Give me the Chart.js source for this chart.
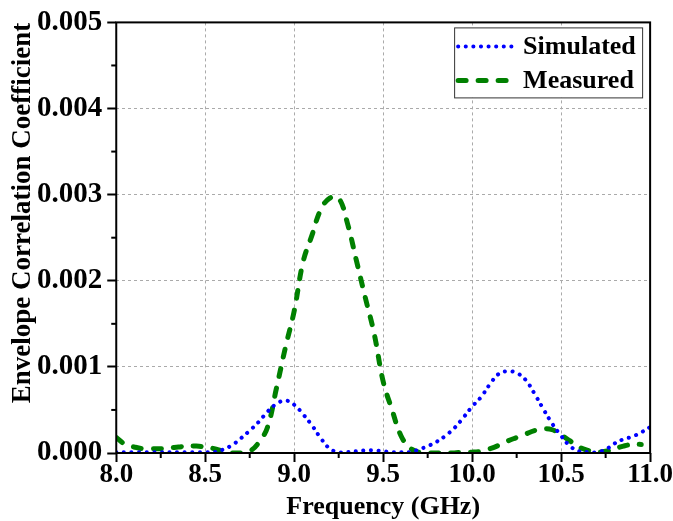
<!DOCTYPE html>
<html>
<head>
<meta charset="utf-8">
<script src="https://cdn.jsdelivr.net/npm/chart.js@4.4.1/dist/chart.umd.min.js"></script>
<style>
  body { margin: 0; background: #fff; }
  #wrap { width: 673px; height: 521px; position: relative; }
</style>
</head>
<body>
<div id="wrap"><canvas id="eccChart"></canvas></div>
<script>
// Tần số (GHz)
const freq = [8.00, 8.05, 8.10, 8.15, 8.20, 8.25, 8.30, 8.35, 8.40, 8.45,
              8.50, 8.55, 8.60, 8.65, 8.70, 8.75, 8.80, 8.85, 8.90, 8.95,
              9.00, 9.05, 9.10, 9.15, 9.20, 9.25, 9.30, 9.35, 9.40, 9.45,
              9.50, 9.55, 9.60, 9.65, 9.70, 9.75, 9.80, 9.85, 9.90, 9.95,
              10.00, 10.05, 10.10, 10.15, 10.20, 10.25, 10.30, 10.35, 10.40, 10.45,
              10.50, 10.55, 10.60, 10.65, 10.70, 10.75, 10.80, 10.85, 10.90, 10.95,
              11.00];

// ECC mô phỏng
const simulated = [0.00001, 0.00001, 0.00001, 0.00001, 0.00001, 0.00001, 0.00001, 0.00001, 0.00001, 0.00001,
                   0.00001, 0.00001, 0.00004, 0.00009, 0.00017, 0.00026, 0.00036, 0.00048, 0.00057, 0.00061,
                   0.00056, 0.00045, 0.00032, 0.00017, 0.00005, 0.00001, 0.00001, 0.00002, 0.00003, 0.00003,
                   0.00002, 0.00001, 0.00001, 0.00001, 0.00004, 0.00008, 0.00013, 0.00020, 0.00029, 0.00041,
                   0.00054, 0.00065, 0.00080, 0.00092, 0.00095, 0.00093, 0.00085, 0.00069, 0.00051, 0.00034,
                   0.00020, 0.00008, 0.00002, 0.00001, 0.00001, 0.00004, 0.00011, 0.00016, 0.00019, 0.00024,
                   0.00030];

// ECC đo đạc
const measured = [0.00018, 0.00010, 0.00007, 0.00005, 0.00005, 0.00005, 0.00006, 0.00007, 0.00008, 0.00008,
                  0.00007, 0.00005, 0.00002, 0.00000, 0.00000, 0.00002, 0.00012, 0.00030, 0.00075, 0.00122,
                  0.00165, 0.00222, 0.00253, 0.00283, 0.00296, 0.00296, 0.00266, 0.00223, 0.00180, 0.00138,
                  0.00083, 0.00050, 0.00020, 0.00006, 0.00001, 0.00000, 0.00000, 0.00000, 0.00000, 0.00001,
                  0.00001, 0.00002, 0.00005, 0.00009, 0.00014, 0.00018, 0.00022, 0.00026, 0.00028, 0.00027,
                  0.00021, 0.00014, 0.00007, 0.00003, 0.00001, 0.00002, 0.00005, 0.00008, 0.00010, 0.00010,
                  null];

const xMinorTicks = [8.25, 8.75, 9.25, 9.75, 10.25, 10.75];
const yMinorTicks = [0.0005, 0.0015, 0.0025, 0.0035, 0.0045];

const FONT = "'Liberation Serif', 'Times New Roman', serif";

// Khung viền, vạch phụ, nhãn trục Y và chú thích
const decorations = {
    id: 'decorations',
    afterDraw(chart) {
        const ctx = chart.ctx;
        const a = chart.chartArea;
        const xs = chart.scales.x, ys = chart.scales.y;
        ctx.save();
        // minor ticks
        ctx.strokeStyle = '#000';
        ctx.lineWidth = 2;
        ctx.setLineDash([]);
        yMinorTicks.forEach(v => {
            const y = ys.getPixelForValue(v);
            ctx.beginPath(); ctx.moveTo(a.left - 5, y); ctx.lineTo(a.left, y); ctx.stroke();
        });
        xMinorTicks.forEach(v => {
            const x = xs.getPixelForValue(v);
            ctx.beginPath(); ctx.moveTo(x, a.bottom); ctx.lineTo(x, a.bottom + 5); ctx.stroke();
        });
        // border
        ctx.strokeRect(a.left, a.top, a.right - a.left, a.bottom - a.top);

        // y title
        ctx.fillStyle = '#000';
        ctx.font = 'bold 27px ' + FONT;
        ctx.textAlign = 'center';
        ctx.textBaseline = 'middle';
        ctx.translate(23, 213);
        ctx.rotate(-Math.PI / 2);
        ctx.fillText('Envelope Correlation Coefficient', 0, 0);
        ctx.restore();

        // legend
        ctx.save();
        const bx = a.right - 196, by = a.top + 5, bw = 188, bh = 70;
        ctx.fillStyle = '#fff';
        ctx.fillRect(bx, by, bw, bh);
        ctx.strokeStyle = '#333';
        ctx.lineWidth = 1;
        ctx.strokeRect(bx + 0.5, by + 0.5, bw, bh);
        chart.data.datasets.forEach((ds, i) => {
            const y = by + 19 + i * 34;
            ctx.strokeStyle = ds.borderColor;
            ctx.lineWidth = ds.borderWidth;
            ctx.lineCap = 'round';
            ctx.setLineDash(ds.borderDash);
            ctx.beginPath(); ctx.moveTo(bx + 4, y); ctx.lineTo(bx + 64, y); ctx.stroke();
            ctx.setLineDash([]);
            ctx.fillStyle = '#000';
            ctx.font = 'bold 26px ' + FONT;
            ctx.textAlign = 'left';
            ctx.textBaseline = 'middle';
            ctx.fillText(ds.label, bx + 69, y + 1);
        });
        ctx.restore();
    }
};

new Chart(document.getElementById('eccChart'), {
    type: 'line',
    data: {
        datasets: [{
            label: 'Simulated',
            data: freq.map((f, i) => ({ x: f, y: simulated[i] })),
            borderColor: '#0000ff',
            borderWidth: 4,
            borderDash: [0.1, 7.5],
            borderCapStyle: 'round',
            pointRadius: 0,
            tension: 0.4,
            fill: false
        }, {
            label: 'Measured',
            data: freq.map((f, i) => ({ x: f, y: measured[i] })),
            borderColor: '#008000',
            borderWidth: 5,
            borderDash: [8, 12],
            borderCapStyle: 'round',
            pointRadius: 0,
            tension: 0.4,
            fill: false,
            spanGaps: false
        }]
    },
    options: {
        responsive: true,
        maintainAspectRatio: false,
        animation: false,
        layout: { padding: { left: 32, right: 20, top: 22, bottom: 1 } },
        plugins: {
            legend: { display: false },
            tooltip: { enabled: false }
        },
        scales: {
            x: {
                type: 'linear',
                min: 8, max: 11,
                ticks: {
                    stepSize: 0.5,
                    color: '#000',
                    padding: 0,
                    font: { family: FONT, size: 27, weight: 'bold', lineHeight: 1.0 },
                    callback: v => v.toFixed(1)
                },
                grid: {
                    color: '#aaa',
                    lineWidth: 1,
                    tickColor: '#000',
                    tickWidth: 2,
                    tickLength: 9,
                    tickBorderDash: []
                },
                border: { display: false, dash: [3, 3] },
                title: {
                    display: true,
                    text: 'Frequency (GHz)',
                    color: '#000',
                    padding: { top: 5, bottom: 0 },
                    font: { family: FONT, size: 26, weight: 'bold', lineHeight: 1.0 }
                }
            },
            y: {
                min: 0, max: 0.005,
                ticks: {
                    stepSize: 0.001,
                    color: '#000',
                    padding: 5,
                    font: { family: FONT, size: 29, weight: 'bold' },
                    callback: v => v.toFixed(3)
                },
                grid: {
                    color: '#aaa',
                    lineWidth: 1,
                    tickColor: '#000',
                    tickWidth: 2,
                    tickLength: 9,
                    tickBorderDash: []
                },
                border: { display: false, dash: [3, 3] }
            }
        }
    },
    plugins: [decorations]
});
</script>
</body>
</html>
